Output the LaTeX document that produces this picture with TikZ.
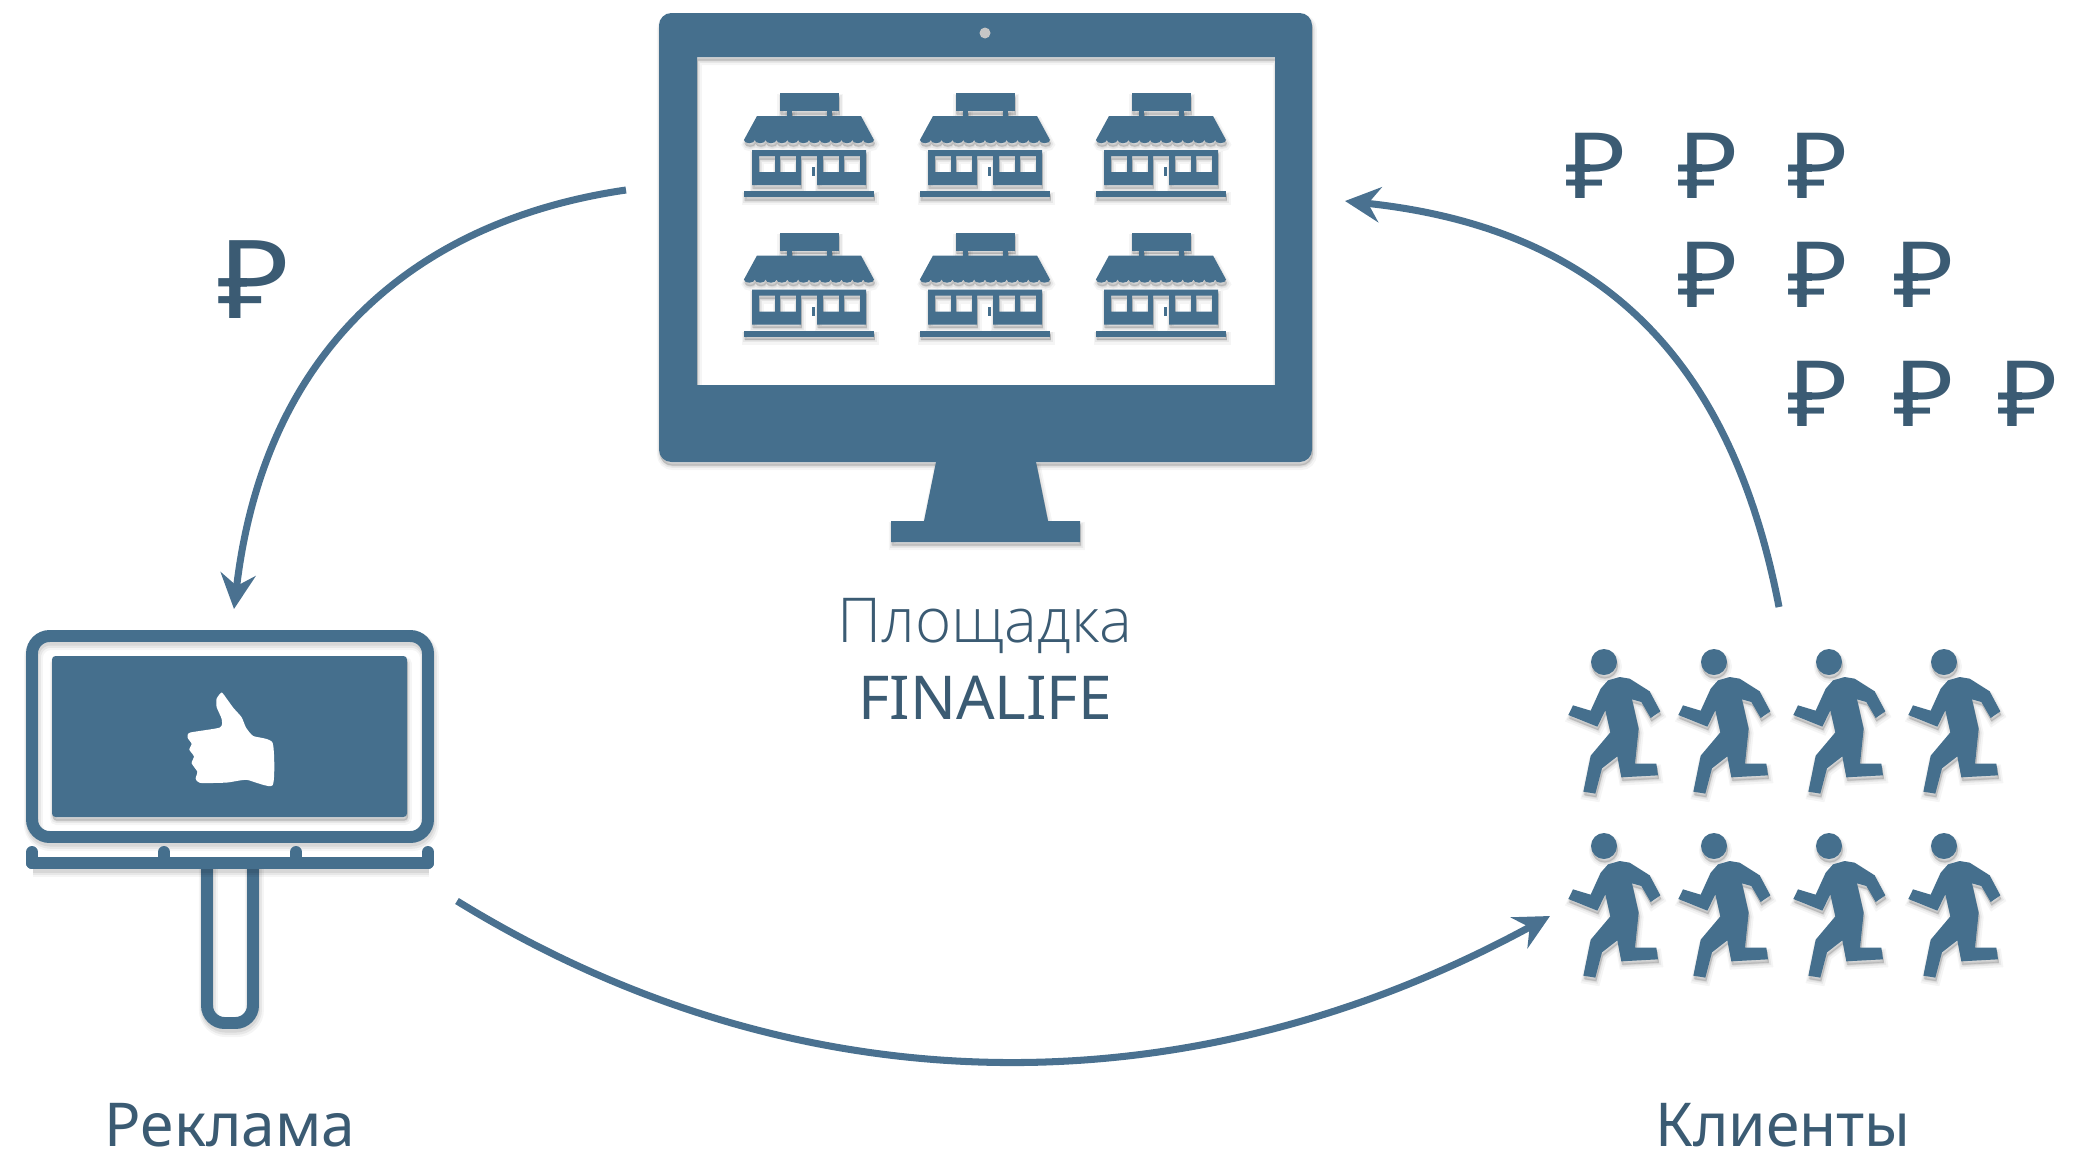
\documentclass[tikz,border=0pt]{standalone}
\usepackage{fontspec}
\usepackage{tikz}
\usetikzlibrary{arrows.meta}
\setmainfont{Noto Sans}
\newfontfamily\thinfont{Open Sans}[UprightFont=* Light]
\definecolor{iconblue}{HTML}{456F8D}
\definecolor{lineblue}{HTML}{4A7190}
\definecolor{textblue}{HTML}{3B5B73}
\tikzset{
  softshadow/.style={
    preaction={even odd rule,fill=black,draw=black,opacity=.04,line width=2pt,transform canvas={shift={(.4pt,-1.3pt)}}},
    preaction={even odd rule,fill=black,draw=black,opacity=.06,line width=1.1pt,transform canvas={shift={(.3pt,-1.1pt)}}},
    preaction={even odd rule,fill=black,draw=black,opacity=.07,line width=.2pt,transform canvas={shift={(.2pt,-.9pt)}}}},
  lineshadow/.style={
    preaction={draw=black,opacity=.04,line width=5.4pt,transform canvas={shift={(.4pt,-1.3pt)}}},
    preaction={draw=black,opacity=.06,line width=4.5pt,transform canvas={shift={(.3pt,-1.1pt)}}},
    preaction={draw=black,opacity=.07,line width=3.6pt,transform canvas={shift={(.2pt,-.9pt)}}}},
  icon/.style={fill=iconblue,softshadow},
  frameline/.style={draw=iconblue,line width=3.4pt,lineshadow},
  flowline/.style={draw=lineblue,line width=2pt,-{Stealth[length=10pt,width=10pt,inset=3.4pt]}},
  rouble/.style={text=textblue,inner sep=0pt,font=\fontsize{26pt}{26pt}\selectfont},
  caption/.style={text=textblue,inner sep=0pt,anchor=base},
  store/.pic={
    \fill[icon] (-29.5,0) rectangle (29.5,18);
    \fill[icon] (-22,17) rectangle (-17,24);
    \fill[icon] (18,17) rectangle (23,24);
    \fill[icon] (-52,23) -- (52,23) -- (65,47)
      \foreach \i in {1,...,12} {arc[start angle=0,end angle=180,x radius=5.42,y radius=3.2]} -- cycle;
    \fill[icon] (-57,57) -- (57,57) -- (57,92) -- (8,92) -- (8,63) -- (-8,63) -- (-8,92) -- (-57,92) -- cycle
      (-50,63) rectangle (-34,79) (-29,63) rectangle (-13,79)
      (14,63) rectangle (30,79) (35,63) rectangle (51,79);
    \fill[iconblue] (2.5,74) rectangle (6,83);
    \fill[icon] (-65,98) rectangle (65,104);
  },
  runner/.pic={
    \fill[icon] (0,0) circle (13);
    \fill[icon,scale=.3333,shift={(-193,-95)}] (240,140) -- (270,145) -- (330,183) -- (362,243) -- (333,263) -- (305,215)
      -- (277,207) -- (297,295) -- (286,400) -- (350,400) -- (355,435) -- (245,441) -- (233,378) -- (187,414)
      -- (167,490) -- (131,484) -- (153,376) -- (212,306) -- (197,240) -- (173,289) -- (86,254) -- (100,225)
      -- (153,241) -- (183,175) -- (205,150) -- cycle;
  }
}
\begin{document}
\begin{tikzpicture}[x=0.01cm,y=-0.01cm]
  \useasboundingbox (0,0) rectangle (2082,1151);

  % monitor
  \fill[icon,even odd rule,rounded corners=3.5pt] (659,13) rectangle (1312,462)
    [sharp corners] (697,57) rectangle (1275,385);
  \fill[icon] (936,462) -- (1036,462) -- (1048,521) -- (1080,521) -- (1080,542) -- (891,542) -- (891,521) -- (924,521) -- cycle;
  \fill[gray!45] (985,33) circle (5.5);
  \foreach \sx in {809,985,1161}
    \foreach \sy in {93,232.5}
      \pic at (\sx,\sy) {store};

  % billboard
  \draw[frameline,rounded corners=5pt] (32,636) rectangle (428,837);
  \fill[icon,rounded corners=1pt] (52,656) rectangle (407,817);
  \draw[frameline,rounded corners=5pt] (207,863) -- (207,1023) -- (253,1023) -- (253,863);
  \draw[frameline,line cap=round] (32,863) -- (428,863);
  \foreach \tx in {32,164,296,428}
    \draw[draw=iconblue,line width=3.4pt,line cap=round] (\tx,852) -- (\tx,863);
  \fill[white,scale=.3333,yscale=1.02] plot[smooth cycle,tension=.35] coordinates {
    (818,2185) (760,2165) (738,2140) (725,2110) (700,2082) (680,2055) (665,2037) (650,2055) (650,2080) (665,2115) (660,2140)
    (570,2155) (563,2170) (575,2188) (568,2205) (582,2225) (575,2245) (592,2270) (587,2290) (600,2303) (680,2302) (740,2294) (818,2310)};

  % clients
  \foreach \rx in {1604,1714,1829,1944}
    \foreach \ry in {662,846}
      \pic at (\rx,\ry) {runner};

  % money
  \node[rouble,font=\fontsize{31pt}{31pt}\selectfont] (bigrub) at (254,280) {\scalebox{1.15}[1]{₽}};
  \foreach \nm/\gx/\gy in {a/1596/166,b/1708/166,c/1818/166,d/1708/275,e/1818/275,f/1924/275,g/1818/394,h/1924/394,i/2028/394}
    \node[rouble] (rub\nm) at (\gx,\gy) {\scalebox{1.15}[1]{₽}};

  % labels
  \node[caption,font=\thinfont\fontsize{17.6pt}{17.6pt}\selectfont] (platform) at (985,642) {Площадка};
  \node[caption,font=\fontsize{17.2pt}{17.2pt}\selectfont] (finalife) at (985,719) {FINALIFE};
  \node[caption,font=\fontsize{17.2pt}{17.2pt}\selectfont] (ads) at (230,1146) {Реклама};
  \node[caption,font=\fontsize{17.2pt}{17.2pt}\selectfont] (clients) at (1783,1146) {Клиенты};

  % flow
  \coordinate (monitorL) at (626,190);
  \coordinate (boardT) at (234,609);
  \coordinate (boardR) at (457,901);
  \coordinate (clientsL) at (1550,916);
  \coordinate (clientsT) at (1779,607);
  \coordinate (monitorR) at (1345,201);
  \draw[flowline] (monitorL) .. controls (420,220) and (265,345) .. (boardT);
  \draw[flowline] (boardR) .. controls (800,1112) and (1190,1112) .. (clientsL);
  \draw[flowline] (clientsT) .. controls (1735,380) and (1620,230) .. (monitorR);
\end{tikzpicture}
\end{document}
